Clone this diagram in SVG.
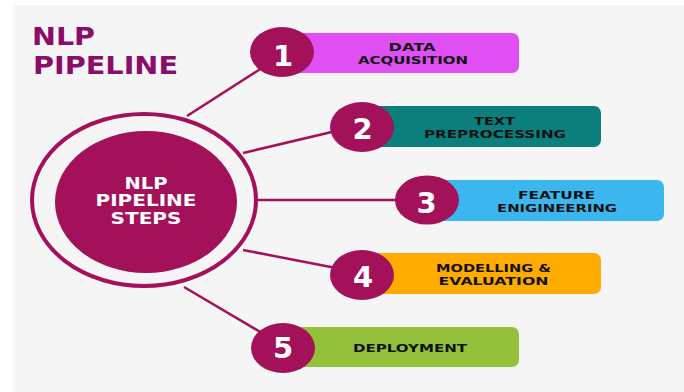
<svg xmlns="http://www.w3.org/2000/svg" width="684" height="392" viewBox="0 0 684 392">
  <defs>
    <style>
      .title { font-family: "DejaVu Sans", "Liberation Sans", sans-serif; font-weight: bold; font-size: 24px; fill: #8a0d6c; }
      .hub-text { font-family: "DejaVu Sans", "Liberation Sans", sans-serif; font-weight: bold; font-size: 15px; fill: #ffffff; text-anchor: middle; }
      .num { font-family: "DejaVu Sans", "Liberation Sans", sans-serif; font-weight: bold; font-size: 29px; fill: #ffffff; text-anchor: middle; }
      .label { font-family: "DejaVu Sans", "Liberation Sans", sans-serif; font-weight: bold; font-size: 11px; fill: #111111; text-anchor: middle; }
      .badge { fill: #a3115a; }
      .link { stroke: #a3115a; stroke-width: 2.5; fill: none; }
    </style>
  </defs>

  <!-- page background -->
  <rect x="0" y="0" width="684" height="392" fill="#ffffff"/>
  <rect x="13" y="5" width="671" height="387" fill="#f5f5f5"/>

  <!-- title -->
  <g id="title">
    <text class="title" x="32" y="45" textLength="63" lengthAdjust="spacingAndGlyphs">NLP</text>
    <text class="title" x="33" y="74" textLength="145" lengthAdjust="spacingAndGlyphs">PIPELINE</text>
  </g>

  <!-- connectors from the hub ring to each step badge -->
  <g id="connectors">
    <line class="link" x1="187" y1="116" x2="262" y2="68"/>
    <line class="link" x1="243" y1="153" x2="336" y2="131"/>
    <line class="link" x1="256" y1="200" x2="400" y2="200"/>
    <line class="link" x1="243" y1="250" x2="336" y2="268"/>
    <line class="link" x1="184" y1="287" x2="262" y2="333"/>
  </g>

  <!-- central hub -->
  <g id="hub">
    <ellipse cx="144" cy="200" rx="112" ry="86" fill="none" stroke="#a3115a" stroke-width="4"/>
    <ellipse cx="146" cy="202" rx="91" ry="71" fill="#a3115a"/>
    <text class="hub-text" x="146" y="188.5" textLength="43" lengthAdjust="spacingAndGlyphs">NLP</text>
    <text class="hub-text" x="146" y="206.3" textLength="101" lengthAdjust="spacingAndGlyphs">PIPELINE</text>
    <text class="hub-text" x="146" y="224.1" textLength="71" lengthAdjust="spacingAndGlyphs">STEPS</text>
  </g>

  <!-- step 1 -->
  <g id="step1">
    <rect x="282" y="33" width="237" height="40" rx="7" fill="#df4ff4"/>
    <ellipse class="badge" cx="282" cy="52" rx="32" ry="25"/>
    <text class="num" x="283" y="66">1</text>
    <text class="label" x="412" y="50.5" textLength="47" lengthAdjust="spacingAndGlyphs">DATA</text>
    <text class="label" x="413" y="63.5" textLength="110" lengthAdjust="spacingAndGlyphs">ACQUISITION</text>
  </g>

  <!-- step 2 -->
  <g id="step2">
    <rect x="362" y="106" width="239" height="41" rx="7" fill="#0a7f7b"/>
    <ellipse class="badge" cx="362" cy="127" rx="32" ry="25"/>
    <text class="num" x="362.5" y="138.5">2</text>
    <text class="label" x="494.5" y="124.5" textLength="41" lengthAdjust="spacingAndGlyphs">TEXT</text>
    <text class="label" x="495" y="137.5" textLength="142" lengthAdjust="spacingAndGlyphs">PREPROCESSING</text>
  </g>

  <!-- step 3 -->
  <g id="step3">
    <rect x="427" y="180" width="237" height="41" rx="7" fill="#3bb6ee"/>
    <ellipse class="badge" cx="427" cy="200" rx="32" ry="24.5"/>
    <text class="num" x="426.5" y="212.5">3</text>
    <text class="label" x="556.5" y="199" textLength="77" lengthAdjust="spacingAndGlyphs">FEATURE</text>
    <text class="label" x="557" y="212" textLength="120" lengthAdjust="spacingAndGlyphs">ENIGINEERING</text>
  </g>

  <!-- step 4 -->
  <g id="step4">
    <rect x="362" y="253" width="239" height="41" rx="7" fill="#ffab00"/>
    <ellipse class="badge" cx="362" cy="275" rx="32" ry="25"/>
    <text class="num" x="363" y="286.5">4</text>
    <text class="label" x="493.5" y="271.8" textLength="115" lengthAdjust="spacingAndGlyphs">MODELLING &amp;</text>
    <text class="label" x="493.5" y="284.8" textLength="110" lengthAdjust="spacingAndGlyphs">EVALUATION</text>
  </g>

  <!-- step 5 -->
  <g id="step5">
    <rect x="283" y="327" width="236" height="40" rx="7" fill="#94c13c"/>
    <ellipse class="badge" cx="283" cy="348" rx="32" ry="25"/>
    <text class="num" x="283" y="358">5</text>
    <text class="label" x="410" y="352" textLength="114" lengthAdjust="spacingAndGlyphs">DEPLOYMENT</text>
  </g>
</svg>
